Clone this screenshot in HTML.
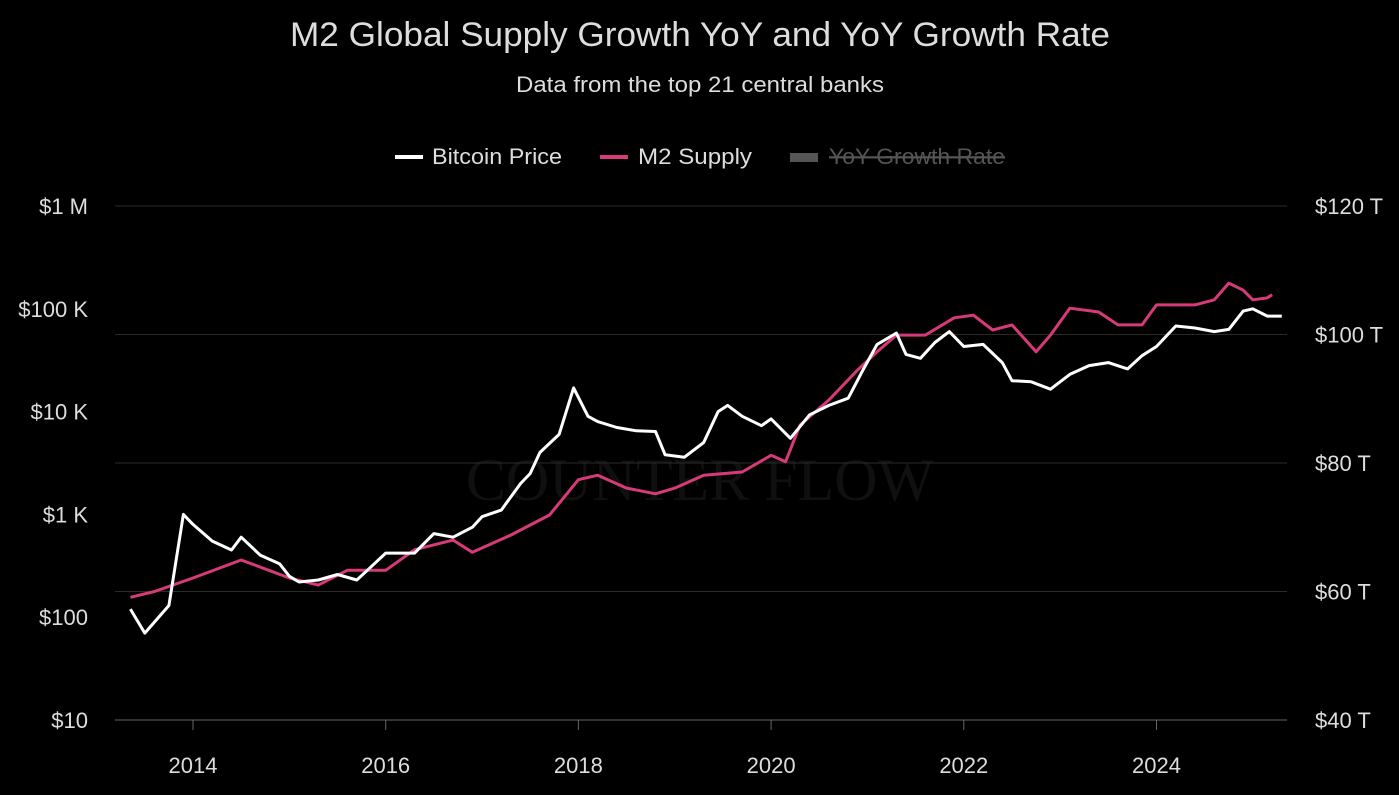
<!DOCTYPE html>
<html><head><meta charset="utf-8"><style>
body{margin:0;background:#000;width:1399px;height:795px;overflow:hidden;font-family:"Liberation Sans",sans-serif}
</style></head><body>
<svg id="c" width="1399" height="795" style="display:block">
<text x="290" y="46" fill="#ddd" font-size="34" textLength="820" lengthAdjust="spacingAndGlyphs">M2 Global Supply Growth YoY and YoY Growth Rate</text>
<text x="516" y="92" fill="#ddd" font-size="22" textLength="368" lengthAdjust="spacingAndGlyphs">Data from the top 21 central banks</text>
<g>
<g><line x1="395" y1="157" x2="423" y2="157" stroke="#fff" stroke-width="4"/><text x="432" y="164" fill="#ddd" font-size="22" textLength="130" lengthAdjust="spacingAndGlyphs">Bitcoin Price</text></g>
<g><line x1="600" y1="157" x2="628" y2="157" stroke="#d63a78" stroke-width="4"/><text x="638" y="164" fill="#ddd" font-size="22" textLength="114" lengthAdjust="spacingAndGlyphs">M2 Supply</text></g>
<g><rect x="790" y="153" width="28" height="9" fill="#555"/><text x="829" y="164" fill="#555" font-size="22" textLength="176" lengthAdjust="spacingAndGlyphs" text-decoration="line-through">YoY Growth Rate</text></g>
</g>
<text x="700" y="500" fill="#101010" font-size="60" font-family="Liberation Serif" text-anchor="middle">COUNTER FLOW</text>
<g id="grid"></g><g id="axes"></g><g id="series"></g>
</svg>
<script>
const btcDates=[2013.35,2013.5,2013.75,2013.9,2014.0,2014.2,2014.4,2014.5,2014.7,2014.9,2015.0,2015.1,2015.3,2015.5,2015.7,2015.8,2016.0,2016.3,2016.5,2016.7,2016.9,2017.0,2017.2,2017.4,2017.5,2017.6,2017.8,2017.95,2018.1,2018.2,2018.4,2018.6,2018.8,2018.9,2019.1,2019.3,2019.45,2019.55,2019.7,2019.9,2020.0,2020.2,2020.4,2020.6,2020.8,2020.95,2021.1,2021.3,2021.4,2021.55,2021.7,2021.85,2022.0,2022.2,2022.4,2022.5,2022.7,2022.9,2023.1,2023.3,2023.5,2023.7,2023.85,2024.0,2024.2,2024.4,2024.6,2024.75,2024.9,2025.0,2025.15,2025.3];
const btcPrice=[120,70,130,1000,800,550,450,600,400,330,250,220,230,260,230,280,420,420,650,600,750,950,1100,2000,2500,4000,6000,17000,9000,8000,7000,6500,6400,3800,3600,5000,10000,11500,9000,7300,8500,5500,9300,11500,13500,25000,45000,58000,36000,33000,47000,60000,43000,45000,30000,20000,19500,16500,23000,28000,30000,26000,35000,43000,68000,65000,60000,63000,95000,100000,85000,85000];
const m2Dates=[2013.35,2013.6,2014.0,2014.5,2015.0,2015.3,2015.6,2016.0,2016.3,2016.7,2016.9,2017.3,2017.7,2018.0,2018.2,2018.5,2018.8,2019.0,2019.3,2019.7,2020.0,2020.15,2020.3,2020.6,2020.9,2021.1,2021.3,2021.6,2021.9,2022.1,2022.3,2022.5,2022.75,2022.9,2023.1,2023.4,2023.6,2023.85,2024.0,2024.4,2024.6,2024.75,2024.9,2025.0,2025.15,2025.2];
const m2Supply=[59.1,60,62.1,64.9,62.1,61,63.3,63.3,66.5,68,66.1,68.8,71.9,77.4,78.1,76.1,75.2,76.1,78.1,78.6,81.2,80.2,85.9,89.8,94.5,97.3,99.9,99.9,102.6,103,100.7,101.5,97.3,99.9,104.1,103.5,101.5,101.5,104.6,104.6,105.4,108,106.9,105.4,105.7,106.2];
const leftTicks=[10,100,1000,10000,100000,1000000];
const leftLabels=["$10","$100","$1 K","$10 K","$100 K","$1 M"];
const rightTicks=[40,60,80,100,120];
const xTicks=[2014,2016,2018,2020,2022,2024];
const NS="http://www.w3.org/2000/svg";
const X=t=>193+(t-2014)*96.35;
const YL=v=>720-(Math.log10(v)-1)*102.8;
const YR=v=>720-(v-40)*6.425;
function mk(tag,attrs,parent,txt){const e=document.createElementNS(NS,tag);for(const k in attrs)e.setAttribute(k,attrs[k]);if(txt!==undefined)e.textContent=txt;document.getElementById(parent).appendChild(e);return e;}
rightTicks.forEach(v=>{
 const l=mk('line',{x1:115,x2:1287,y1:YR(v),y2:YR(v),stroke:v===40?'#666':'#2a2a2a','stroke-width':1},'grid');
 
 
 const t=mk('text',{x:1315,y:YR(v)+8,fill:'#ddd','font-size':22},'axes','$'+v+' T');
 
 
});
leftTicks.forEach((v,i)=>{
 const t=mk('text',{x:88,y:YL(v)+8,fill:'#ddd','font-size':22,'text-anchor':'end'},'axes',leftLabels[i]);
 
 
});
xTicks.forEach(v=>{
 const k=mk('line',{x1:X(v),x2:X(v),y1:720,y2:730,stroke:'#666'},'axes');
 
 
 const t=mk('text',{x:X(v),y:773,fill:'#ddd','font-size':22,'text-anchor':'middle'},'axes',String(v));
 
 
});
const pm=m2Dates.map((d,i)=>X(d).toFixed(1)+','+YR(m2Supply[i]).toFixed(1)).join(' ');
const m=mk('polyline',{points:pm,fill:'none',stroke:'#d63a78','stroke-width':3,'stroke-linejoin':'round'},'series');


const pb=btcDates.map((d,i)=>X(d).toFixed(1)+','+YL(btcPrice[i]).toFixed(1)).join(' ');
const b=mk('polyline',{points:pb,fill:'none',stroke:'#fff','stroke-width':3,'stroke-linejoin':'round'},'series');


</script>
</body></html>
